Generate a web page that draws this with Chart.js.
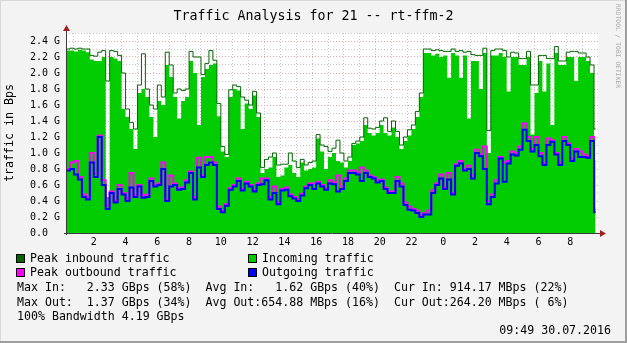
<!DOCTYPE html>
<html>
<head>
<meta charset="utf-8">
<script src="https://cdn.jsdelivr.net/npm/chart.js@4.4.1/dist/chart.umd.min.js"></script>
<style>
  html, body { margin: 0; padding: 0; background: #fff; }
  #frame {
    position: relative; width: 627px; height: 343px; background: #F3F3F3;
    box-shadow: inset -2px -2px 0 #9E9E9E, inset 1px 1px 0 #D8D8D8;
    font-family: "DejaVu Sans Mono", monospace; color: #000;
  }
  #chart { position: absolute; left: 0; top: 0; }
  .t { position: absolute; white-space: pre; font-size: 11.6px; line-height: 14px; }
  .sq { position: absolute; width: 9px; height: 9px; box-sizing: border-box; border: 1px solid #000; }
  #title { position: absolute; left: 0; top: 8px; width: 627px; text-align: center; font-size: 13.3px; line-height: 16px; }
  #mark { position: absolute; left: 615px; top: 4px; writing-mode: vertical-rl; font-size: 6.2px; color: #A8A8A8; letter-spacing: 0.1px; }
</style>
</head>
<body>
<div id="frame">
  <canvas id="chart" width="627" height="343"></canvas>
  <div id="title">Traffic Analysis for 21 -- rt-ffm-2</div>
  <div id="mark">RRDTOOL / TOBI OETIKER</div>

  <div class="sq" style="left:16px;top:254px;background:#006600"></div>
  <div class="t" style="left:30px;top:251px">Peak inbound traffic</div>
  <div class="sq" style="left:248px;top:254px;background:#00CC00"></div>
  <div class="t" style="left:262px;top:251px">Incoming traffic</div>
  <div class="sq" style="left:16px;top:268px;background:#FF00FF"></div>
  <div class="t" style="left:30px;top:265px">Peak outbound traffic</div>
  <div class="sq" style="left:248px;top:268px;background:#0000FF"></div>
  <div class="t" style="left:262px;top:265px">Outgoing traffic</div>

  <div class="t" style="left:17px;top:280px">Max In:   2.33 GBps (58%)  Avg In:   1.62 GBps (40%)  Cur In: 914.17 MBps (22%)</div>
  <div class="t" style="left:17px;top:295px">Max Out:  1.37 GBps (34%)  Avg Out:654.88 MBps (16%)  Cur Out:264.20 MBps ( 6%)</div>
  <div class="t" style="left:17px;top:309px">100% Bandwidth 4.19 GBps</div>
  <div class="t" style="right:16px;top:323px">09:49 30.07.2016</div>
</div>

<script>
// sampling of the series (hours since midnight of the first day)
const START_HOUR = 0.5;
const STEP_HOURS = 0.25;
const END_HOUR = 33.85;

// traffic in GBps, one value per 15 min
const incoming = [
  2.28, 2.28, 2.27, 2.29, 2.28, 2.26, 2.17, 2.15, 2.15, 2.20,
  0.45, 2.20, 2.18, 2.15, 1.55, 1.45, 1.30, 1.05, 1.75, 1.80,
  1.70, 1.45, 1.20, 1.65, 1.60, 2.10, 1.95, 1.70, 1.43, 1.65,
  1.70, 2.15, 2.00, 1.35, 1.95, 2.05, 2.10, 2.12, 1.46, 1.02,
  0.95, 1.70, 1.80, 1.78, 1.30, 1.62, 1.55, 1.72, 1.45, 0.75,
  0.80, 0.82, 0.95, 0.70, 0.72, 0.82, 0.85, 0.75, 0.70, 0.88,
  0.78, 0.80, 0.82, 1.18, 1.02, 0.80, 0.95, 1.00, 0.90, 0.88,
  0.82, 0.90, 1.10, 1.12, 1.15, 1.35, 1.25, 1.22, 1.25, 1.35,
  1.25, 1.22, 1.32, 1.20, 1.05, 1.15, 1.22, 1.30, 1.45, 1.70,
  2.25, 2.25, 2.22, 2.24, 2.20, 2.22, 1.94, 2.25, 2.22, 1.94,
  2.22, 1.43, 2.15, 2.15, 1.80, 2.25, 1.00, 2.22, 2.22, 2.25,
  2.20, 1.77, 2.20, 2.20, 2.10, 2.10, 2.20, 1.23, 1.75, 2.15,
  1.77, 2.12, 1.35, 2.25, 2.10, 2.10, 2.20, 2.20, 1.90, 2.20,
  2.20, 2.15, 2.00, 0.91
];
const peakIn = [
  2.30, 2.31, 2.30, 2.31, 2.30, 2.30, 2.22, 2.21, 2.26, 2.28,
  1.90, 2.28, 2.27, 2.22, 2.00, 1.55, 1.38, 1.30, 1.85, 2.24,
  1.80, 1.60, 1.55, 1.85, 1.70, 2.26, 2.10, 1.75, 1.80, 1.78,
  1.80, 2.27, 2.20, 2.20, 1.98, 2.12, 2.28, 2.16, 1.62, 1.08,
  0.98, 1.79, 1.85, 1.83, 1.70, 1.66, 1.60, 1.77, 1.50, 0.82,
  0.92, 0.95, 1.00, 0.85, 0.86, 0.86, 1.00, 0.90, 0.82, 0.92,
  0.85, 0.88, 0.90, 1.23, 1.10, 1.08, 1.02, 1.06, 1.16, 1.00,
  0.90, 0.95, 1.12, 1.15, 1.20, 1.44, 1.31, 1.30, 1.32, 1.40,
  1.44, 1.27, 1.40, 1.27, 1.10, 1.20, 1.29, 1.35, 1.52, 1.75,
  2.30, 2.30, 2.28, 2.29, 2.28, 2.27, 2.27, 2.30, 2.27, 2.28,
  2.26, 2.27, 2.23, 2.22, 2.22, 2.31, 1.28, 2.28, 2.30, 2.30,
  2.28, 2.20, 2.26, 2.25, 2.18, 2.18, 2.27, 1.85, 1.85, 2.22,
  2.22, 2.18, 2.18, 2.33, 2.15, 2.15, 2.26, 2.27, 2.27, 2.25,
  2.25, 2.20, 2.10, 1.30
];
const outgoing = [
  0.78, 0.80, 0.73, 0.67, 0.45, 0.42, 0.88, 0.70, 1.20, 0.60,
  0.30, 0.50, 0.38, 0.55, 0.48, 0.40, 0.57, 0.45, 0.58, 0.44,
  0.45, 0.65, 0.58, 0.60, 0.80, 0.40, 0.58, 0.60, 0.54, 0.55,
  0.63, 0.75, 0.42, 0.82, 0.70, 0.85, 0.88, 0.85, 0.30, 0.26,
  0.34, 0.54, 0.58, 0.65, 0.53, 0.62, 0.58, 0.52, 0.60, 0.61,
  0.66, 0.42, 0.50, 0.36, 0.53, 0.54, 0.46, 0.43, 0.40, 0.47,
  0.56, 0.60, 0.55, 0.62, 0.58, 0.54, 0.62, 0.61, 0.52, 0.55,
  0.65, 0.75, 0.75, 0.73, 0.65, 0.75, 0.70, 0.68, 0.63, 0.65,
  0.55, 0.50, 0.50, 0.65, 0.58, 0.35, 0.29, 0.28, 0.25, 0.20,
  0.23, 0.23, 0.50, 0.60, 0.68, 0.55, 0.67, 0.48, 0.84, 0.87,
  0.78, 0.80, 0.68, 1.00, 0.96, 0.80, 0.36, 0.45, 0.62, 0.93,
  0.64, 0.87, 0.98, 0.97, 1.04, 1.29, 1.15, 1.02, 1.10, 0.96,
  0.85, 1.10, 1.14, 0.98, 0.85, 1.15, 1.10, 0.90, 1.02, 0.95,
  0.95, 0.94, 1.15, 0.26
];
const peakOut = [
  0.80, 0.88, 0.90, 0.70, 0.48, 0.45, 1.00, 0.74, 1.22, 0.66,
  0.34, 0.52, 0.40, 0.60, 0.50, 0.43, 0.75, 0.47, 0.60, 0.47,
  0.48, 0.68, 0.60, 0.62, 0.88, 0.42, 0.72, 0.62, 0.56, 0.57,
  0.66, 0.77, 0.45, 0.94, 0.72, 0.95, 0.95, 0.88, 0.33, 0.28,
  0.36, 0.56, 0.60, 0.68, 0.55, 0.64, 0.60, 0.54, 0.62, 0.68,
  0.68, 0.45, 0.58, 0.38, 0.55, 0.57, 0.48, 0.45, 0.42, 0.49,
  0.58, 0.62, 0.62, 0.64, 0.60, 0.56, 0.66, 0.63, 0.72, 0.58,
  0.68, 0.78, 0.78, 0.76, 0.82, 0.78, 0.72, 0.70, 0.66, 0.67,
  0.57, 0.52, 0.52, 0.70, 0.62, 0.38, 0.33, 0.30, 0.28, 0.22,
  0.25, 0.28, 0.53, 0.62, 0.73, 0.57, 0.75, 0.50, 0.86, 0.90,
  0.80, 0.84, 0.72, 1.04, 0.98, 1.08, 0.40, 0.48, 0.66, 0.95,
  0.88, 0.90, 1.02, 1.00, 1.08, 1.37, 1.20, 1.05, 1.20, 1.00,
  0.88, 1.18, 1.16, 1.00, 0.88, 1.20, 1.12, 0.93, 1.05, 1.02,
  0.98, 0.96, 1.20, 0.29
];

// axis ticks
const xTicks = [1,2,3,4,5,6,7,8,9,10,11,12,13,14,15,16,17,18,19,20,21,22,23,24,25,26,27,28,29,30,31,32,33];
const xTickLabels = ['','2','','4','','6','','8','','10','','12','','14','','16','','18','','20','','22','','0','','2','','4','','6','','8',''];
const yTicks = [0.0,0.1,0.2,0.3,0.4,0.5,0.6,0.7,0.8,0.9,1.0,1.1,1.2,1.3,1.4,1.5,1.6,1.7,1.8,1.9,2.0,2.1,2.2,2.3,2.4,2.5];
const yTickLabels = ['0.0  ','','0.2 G','','0.4 G','','0.6 G','','0.8 G','','1.0 G','','1.2 G','','1.4 G','','1.6 G','','1.8 G','','2.0 G','','2.2 G','','2.4 G',''];

const MONO = '"DejaVu Sans Mono", monospace';
const MINOR = '#C4C4C4';
const MAJOR = '#E2A4A4';

function points(values) {
  const p = values.map((v, i) => ({ x: START_HOUR + i * STEP_HOURS, y: v }));
  p.push({ x: END_HOUR, y: values[values.length - 1] });
  return p;
}

// white plot area, axis lines and the little arrows
const frame = {
  id: 'frame',
  beforeDraw(chart) {
    const { ctx, chartArea: a } = chart;
    ctx.save();
    ctx.fillStyle = '#ffffff';
    ctx.fillRect(a.left, a.top, a.right - a.left, a.bottom - a.top);
    ctx.restore();
  },
  afterDraw(chart) {
    const { ctx, chartArea: a } = chart;
    ctx.save();
    ctx.strokeStyle = '#3C3C3C';
    ctx.lineWidth = 1;
    ctx.beginPath();
    ctx.moveTo(a.left - 2, a.bottom + 0.5);
    ctx.lineTo(a.right + 3, a.bottom + 0.5);
    ctx.moveTo(a.left + 0.5, a.bottom + 2);
    ctx.lineTo(a.left + 0.5, a.top - 4);
    ctx.stroke();
    ctx.fillStyle = '#A02020';
    ctx.beginPath();
    ctx.moveTo(a.left + 0.5, a.top - 8);
    ctx.lineTo(a.left - 3, a.top - 2);
    ctx.lineTo(a.left + 4, a.top - 2);
    ctx.closePath();
    ctx.fill();
    ctx.beginPath();
    ctx.moveTo(a.right + 8, a.bottom + 0.5);
    ctx.lineTo(a.right + 2, a.bottom - 3);
    ctx.lineTo(a.right + 2, a.bottom + 4);
    ctx.closePath();
    ctx.fill();
    ctx.restore();
  }
};

new Chart(document.getElementById('chart').getContext('2d'), {
  type: 'line',
  data: {
    datasets: [
      {
        label: 'Outgoing traffic',
        data: points(outgoing),
        borderColor: '#0000FF',
        borderWidth: 2,
        stepped: true,
        pointRadius: 0,
        fill: false,
        order: 1
      },
      {
        label: 'Peak outbound traffic',
        data: points(peakOut),
        borderColor: '#FF00FF',
        borderWidth: 2,
        stepped: true,
        pointRadius: 0,
        fill: false,
        order: 2
      },
      {
        label: 'Peak inbound traffic',
        data: points(peakIn),
        borderColor: '#006600',
        borderWidth: 1,
        stepped: true,
        pointRadius: 0,
        fill: false,
        order: 3
      },
      {
        label: 'Incoming traffic',
        data: points(incoming),
        borderWidth: 0,
        borderColor: '#00CC00',
        backgroundColor: '#00CC00',
        stepped: true,
        pointRadius: 0,
        fill: 'origin',
        order: 4
      }
    ]
  },
  options: {
    responsive: false,
    animation: false,
    events: [],
    layout: { padding: { left: 0, right: 29, top: 33, bottom: 90 } },
    plugins: {
      legend: { display: false },
      tooltip: { enabled: false },
      title: { display: false }
    },
    scales: {
      x: {
        type: 'linear',
        min: 0.5,
        max: 34.0,
        afterFit(scale) { scale.height = 20; },
        afterBuildTicks(scale) { scale.ticks = xTicks.map(v => ({ value: v })); },
        ticks: {
          autoSkip: false,
          maxRotation: 0,
          padding: 3,
          labelOffset: 4,
          color: '#000',
          font: { family: MONO, size: 10 },
          callback: (v, i) => xTickLabels[i]
        },
        grid: {
          drawTicks: false,
          color: ctx => (ctx.tick && ctx.tick.value === 24 ? MAJOR : MINOR),
          borderDash: [1, 2]
        },
        border: { display: false, dash: [1, 2] }
      },
      y: {
        min: 0,
        max: 2.5,
        afterFit(scale) { scale.width = 66; },
        afterBuildTicks(scale) { scale.ticks = yTicks.map(v => ({ value: v })); },
        ticks: {
          autoSkip: false,
          padding: 6,
          color: '#000',
          font: { family: MONO, size: 10 },
          callback: (v, i) => yTickLabels[i]
        },
        grid: {
          drawTicks: false,
          color: ctx => (yTickLabels[ctx.index] ? MAJOR : MINOR),
          borderDash: [1, 2]
        },
        border: { display: false, dash: [1, 2] },
        title: {
          display: true,
          text: 'traffic in Bps',
          color: '#000',
          font: { family: MONO, size: 11.6 },
          padding: { top: 3, bottom: 0 }
        }
      }
    }
  },
  plugins: [frame]
});
</script>
</body>
</html>
